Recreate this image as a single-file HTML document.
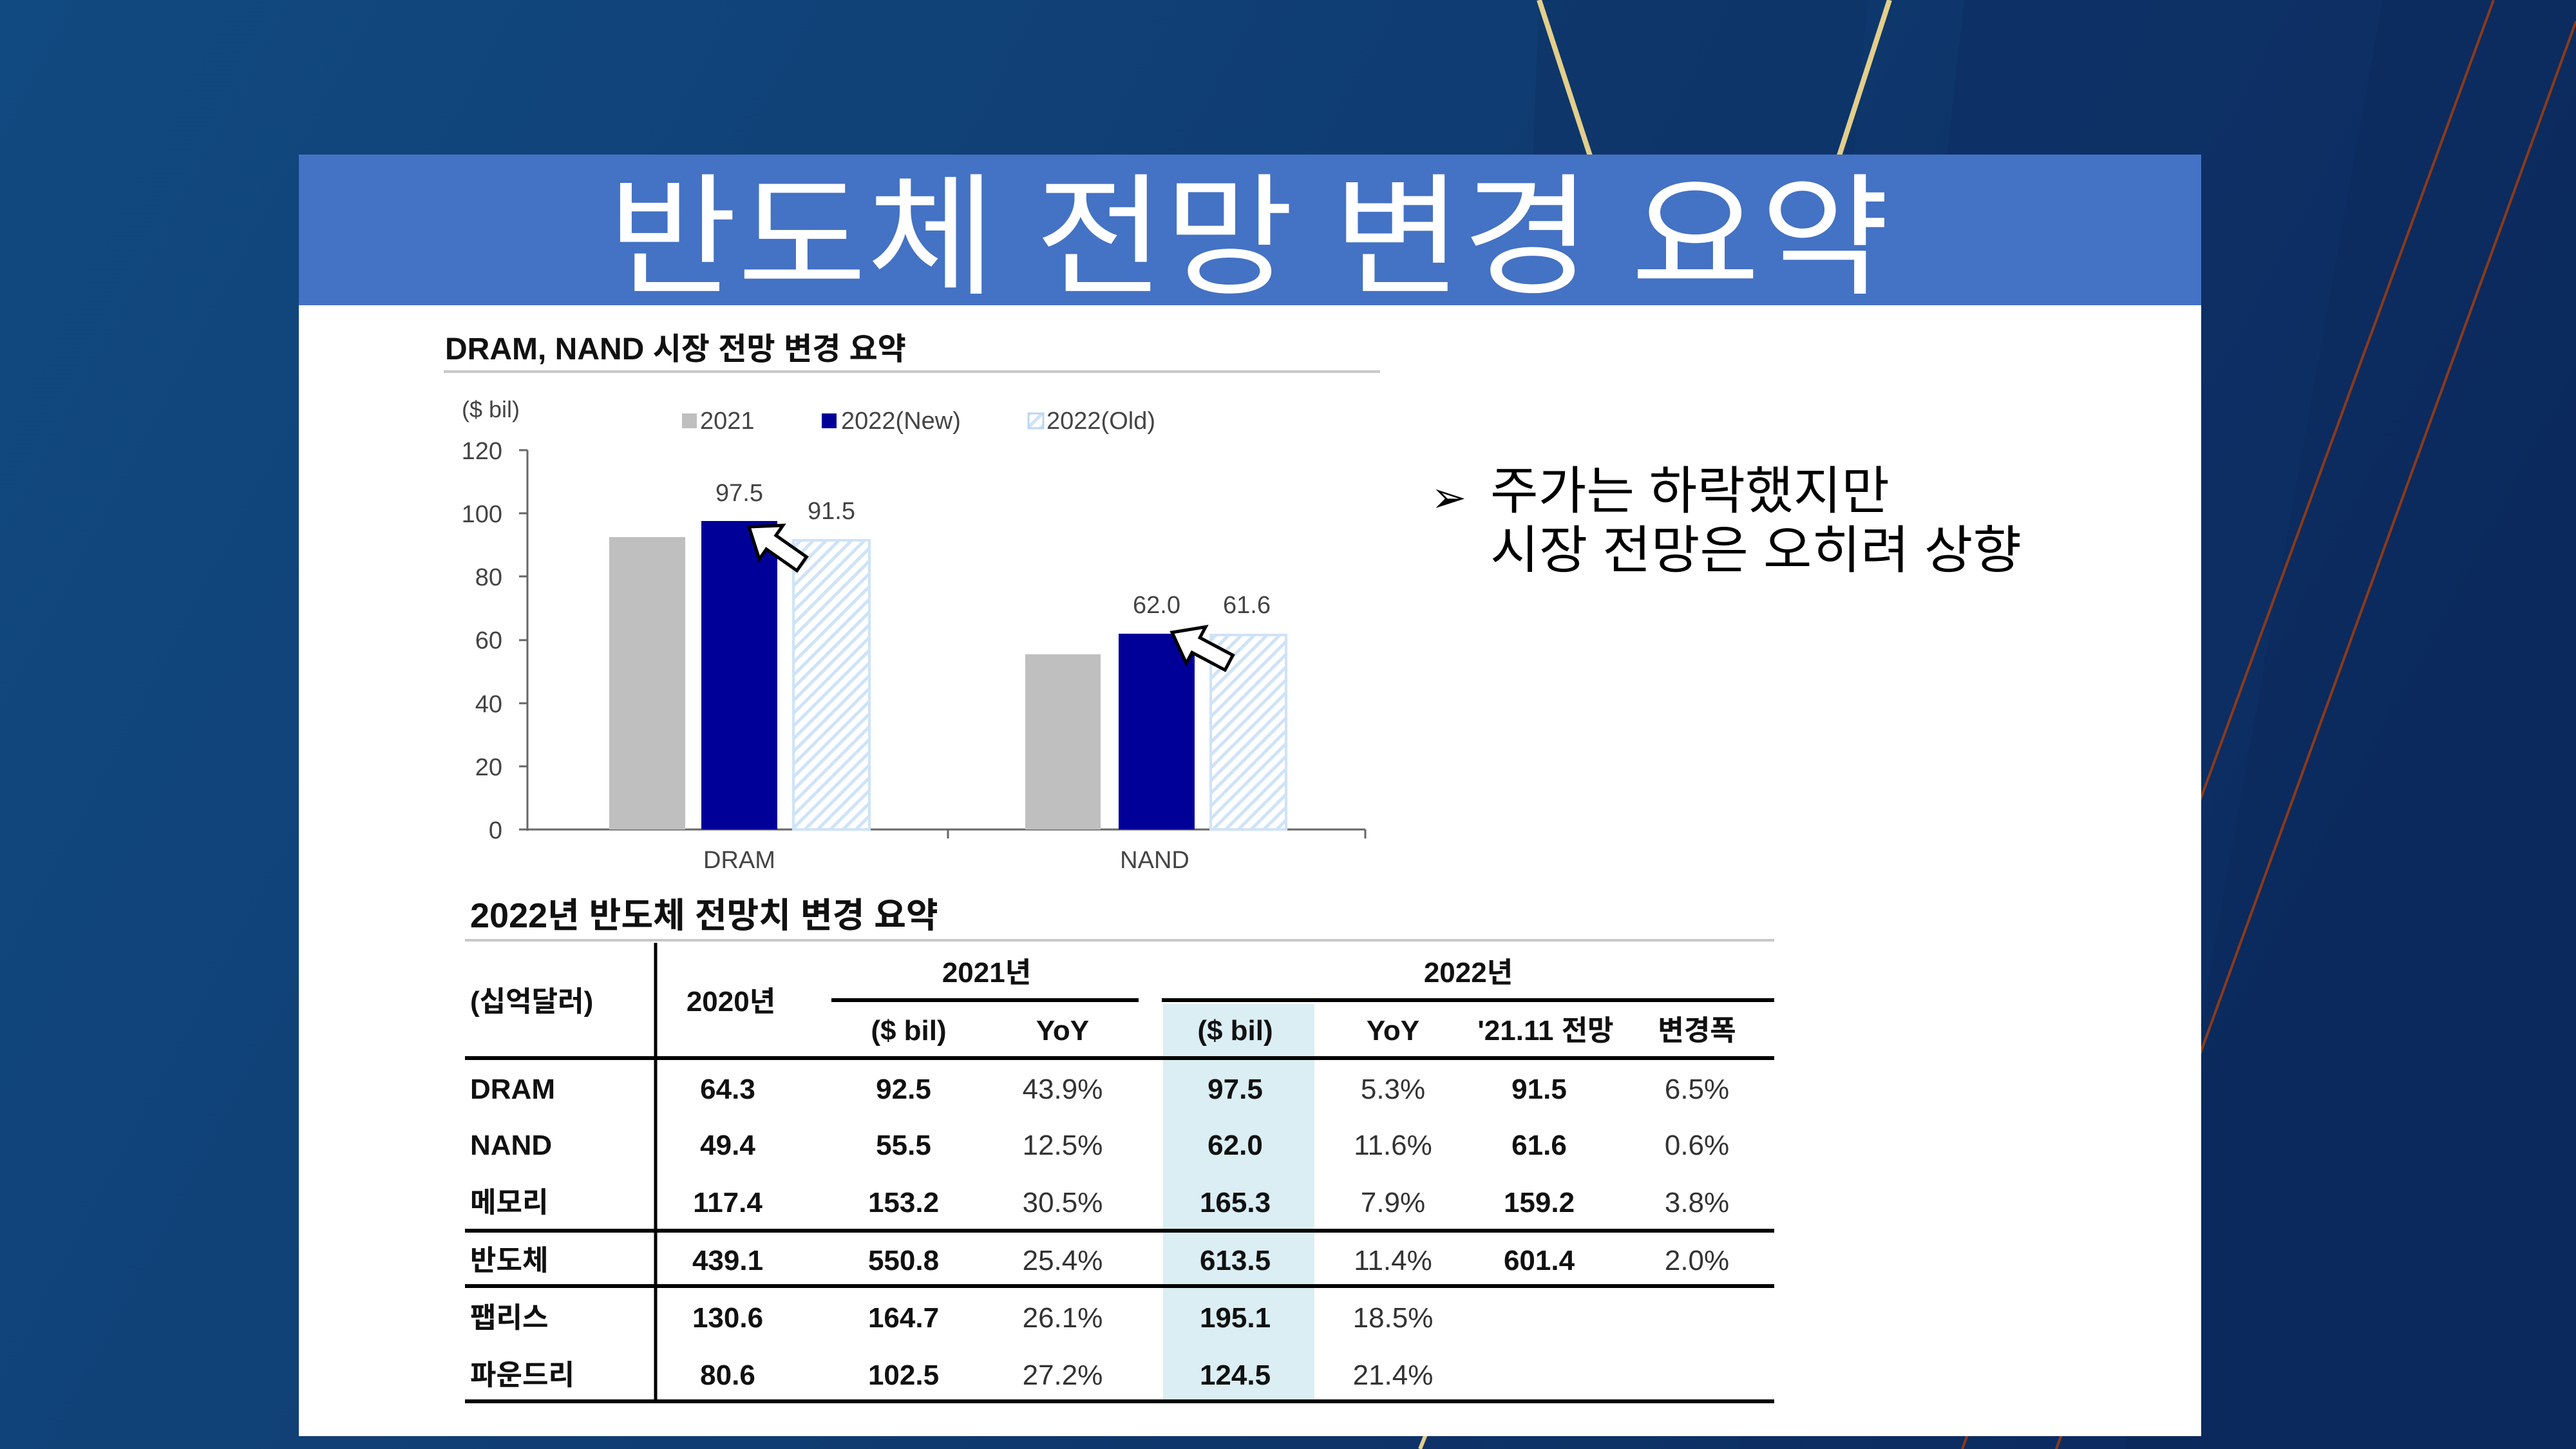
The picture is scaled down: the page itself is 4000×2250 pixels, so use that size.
<!DOCTYPE html>
<html><head><meta charset="utf-8"><style>
html,body{margin:0;padding:0;width:4000px;height:2250px;overflow:hidden;}
svg{display:block}
text{font-family:"Liberation Sans","Noto Sans CJK KR",sans-serif;}
</style></head><body>
<svg width="4000" height="2250" viewBox="0 0 4000 2250" xmlns="http://www.w3.org/2000/svg">
<defs>
<linearGradient id="bg" x1="0" y1="0" x2="1" y2="0.3">
<stop offset="0" stop-color="#114a80"/><stop offset="0.55" stop-color="#0f3c72"/><stop offset="1" stop-color="#0c2a5e"/>
</linearGradient>
<pattern id="hatch" width="14" height="14" patternUnits="userSpaceOnUse" patternTransform="rotate(45)">
<rect width="14" height="14" fill="#ffffff"/><rect width="5" height="14" fill="#cfe3f7"/>
</pattern>
</defs>
<rect width="4000" height="2250" fill="url(#bg)"/>
<polygon points="2390,0 2900,0 2700,2250 2300,2250" fill="#0e3468" opacity="0.6"/>
<polygon points="3050,0 3700,0 3300,2250 2800,2250" fill="#0d2f64" opacity="0.6"/>
<polygon points="3700,0 4000,0 4000,2250 3300,2250" fill="#0b295b" opacity="0.6"/>
<line x1="2390" y1="0" x2="2475" y2="260" stroke="#e3cf8a" stroke-width="8"/>
<line x1="2934" y1="0" x2="2850" y2="260" stroke="#e3cf8a" stroke-width="8"/>
<line x1="2215" y1="2225" x2="2205" y2="2250" stroke="#e3cf8a" stroke-width="6"/>
<line x1="3872" y1="0" x2="3047" y2="2250" stroke="#8a3a1a" stroke-width="4"/>
<line x1="4000" y1="33" x2="3193" y2="2250" stroke="#8a3a1a" stroke-width="4"/>
<!-- panel -->
<rect x="464" y="240" width="2954" height="1990" fill="#ffffff"/>
<rect x="464" y="240" width="2954" height="234" fill="#4472c4"/>
<text x="944" y="440" font-size="205" fill="#ffffff" textLength="1990" lengthAdjust="spacingAndGlyphs">반도체 전망 변경 요약</text>
<!-- chart -->
<text x="691" y="558" font-size="48" font-weight="bold" fill="#111">DRAM, NAND 시장 전망 변경 요약</text>
<line x1="689" y1="577" x2="2143" y2="577" stroke="#c8c8c8" stroke-width="4"/>
<text x="717" y="648" font-size="36" fill="#444">($ bil)</text>
<rect x="1059" y="642" width="23" height="23" fill="#bfbfbf"/>
<text x="1087" y="666" font-size="38" fill="#444">2021</text>
<rect x="1276" y="642" width="23" height="23" fill="#000099"/>
<text x="1306" y="666" font-size="38" fill="#444">2022(New)</text>
<rect x="1597" y="642" width="23" height="23" fill="url(#hatch)" stroke="#bcd6f2" stroke-width="3"/>
<text x="1625" y="666" font-size="38" fill="#444">2022(Old)</text>
<g font-size="38" fill="#444" text-anchor="end">
<text x="780" y="713">120</text><text x="780" y="811">100</text><text x="780" y="909">80</text>
<text x="780" y="1007">60</text><text x="780" y="1106">40</text><text x="780" y="1204">20</text><text x="780" y="1302">0</text>
</g>
<g stroke="#666" stroke-width="3">
<line x1="819" y1="699" x2="819" y2="1290"/>
<line x1="806" y1="699" x2="819" y2="699"/><line x1="806" y1="797" x2="819" y2="797"/>
<line x1="806" y1="895" x2="819" y2="895"/><line x1="806" y1="994" x2="819" y2="994"/>
<line x1="806" y1="1092" x2="819" y2="1092"/><line x1="806" y1="1190" x2="819" y2="1190"/>
<line x1="806" y1="1288" x2="2120" y2="1288"/>
<line x1="1472" y1="1288" x2="1472" y2="1302"/><line x1="2120" y1="1288" x2="2120" y2="1302"/>
</g>
<rect x="946" y="834" width="118" height="454" fill="#bfbfbf"/>
<rect x="1089" y="809" width="118" height="479" fill="#000099"/>
<rect x="1232" y="839" width="118" height="449" fill="url(#hatch)" stroke="#cfe3f7" stroke-width="4"/>
<rect x="1592" y="1016" width="117" height="272" fill="#bfbfbf"/>
<rect x="1737" y="984" width="118" height="304" fill="#000099"/>
<rect x="1880" y="986" width="117" height="302" fill="url(#hatch)" stroke="#cfe3f7" stroke-width="4"/>
<polygon points="0,0 42,-32 42,-13 100,-13 100,13 42,13 42,32" fill="#fff" stroke="#000" stroke-width="5" transform="translate(1163,818) rotate(35)"/>
<polygon points="0,0 42,-32 42,-13 100,-13 100,13 42,13 42,32" fill="#fff" stroke="#000" stroke-width="5" transform="translate(1820,982) rotate(28)"/>
<g font-size="38" fill="#444" text-anchor="middle">
<text x="1148" y="778">97.5</text><text x="1291" y="806">91.5</text>
<text x="1796" y="952">62.0</text><text x="1936" y="952">61.6</text>
<text x="1148" y="1348">DRAM</text><text x="1793" y="1348">NAND</text>
</g>
<!-- bullet -->
<text x="2222" y="795" font-size="66" fill="#000">➢</text>
<text x="2314" y="790" font-size="80" fill="#000" textLength="620" lengthAdjust="spacingAndGlyphs">주가는 하락했지만</text>
<text x="2314" y="882" font-size="80" fill="#000" textLength="825" lengthAdjust="spacingAndGlyphs">시장 전망은 오히려 상향</text>
<!-- table -->
<text x="730" y="1440" font-size="54" font-weight="bold" fill="#111">2022년 반도체 전망치 변경 요약</text>
<line x1="722" y1="1460" x2="2755" y2="1460" stroke="#c8c8c8" stroke-width="4"/>
<rect x="1806" y="1559" width="235" height="617" fill="#daeef3"/>
<g stroke="#000">
<line x1="1018" y1="1464" x2="1018" y2="2176" stroke-width="5"/>
<line x1="1291" y1="1553" x2="1768" y2="1553" stroke-width="6"/>
<line x1="1804" y1="1553" x2="2755" y2="1553" stroke-width="6"/>
<line x1="722" y1="1643" x2="2755" y2="1643" stroke-width="6"/>
<line x1="722" y1="1911" x2="2755" y2="1911" stroke-width="6"/>
<line x1="722" y1="1997" x2="2755" y2="1997" stroke-width="6"/>
<line x1="722" y1="2176" x2="2755" y2="2176" stroke-width="6"/>
</g>
<g font-size="44" font-weight="bold" fill="#111" text-anchor="middle">
<text x="1532" y="1525">2021년</text><text x="2280" y="1525">2022년</text>
<text x="1135" y="1570">2020년</text>
<text x="1411" y="1615">($ bil)</text><text x="1650" y="1615">YoY</text>
<text x="1918" y="1615">($ bil)</text><text x="2163" y="1615">YoY</text>
<text x="2400" y="1615">'21.11 전망</text><text x="2635" y="1615">변경폭</text>
</g>
<text x="730" y="1570" font-size="44" font-weight="bold" fill="#111">(십억달러)</text>
<g font-size="44" font-weight="bold" fill="#111">
<text x="730" y="1706">DRAM</text><text x="730" y="1793">NAND</text><text x="730" y="1882">메모리</text>
<text x="730" y="1972">반도체</text><text x="730" y="2061">팹리스</text><text x="730" y="2150">파운드리</text>
</g>
<g font-size="44" text-anchor="middle">
<g font-weight="bold" fill="#111">
<text x="1130" y="1706">64.3</text><text x="1403" y="1706">92.5</text><text x="1918" y="1706">97.5</text><text x="2390" y="1706">91.5</text>
<text x="1130" y="1793">49.4</text><text x="1403" y="1793">55.5</text><text x="1918" y="1793">62.0</text><text x="2390" y="1793">61.6</text>
<text x="1130" y="1882">117.4</text><text x="1403" y="1882">153.2</text><text x="1918" y="1882">165.3</text><text x="2390" y="1882">159.2</text>
<text x="1130" y="1972">439.1</text><text x="1403" y="1972">550.8</text><text x="1918" y="1972">613.5</text><text x="2390" y="1972">601.4</text>
<text x="1130" y="2061">130.6</text><text x="1403" y="2061">164.7</text><text x="1918" y="2061">195.1</text>
<text x="1130" y="2150">80.6</text><text x="1403" y="2150">102.5</text><text x="1918" y="2150">124.5</text>
</g>
<g fill="#333">
<text x="1650" y="1706">43.9%</text><text x="2163" y="1706">5.3%</text><text x="2635" y="1706">6.5%</text>
<text x="1650" y="1793">12.5%</text><text x="2163" y="1793">11.6%</text><text x="2635" y="1793">0.6%</text>
<text x="1650" y="1882">30.5%</text><text x="2163" y="1882">7.9%</text><text x="2635" y="1882">3.8%</text>
<text x="1650" y="1972">25.4%</text><text x="2163" y="1972">11.4%</text><text x="2635" y="1972">2.0%</text>
<text x="1650" y="2061">26.1%</text><text x="2163" y="2061">18.5%</text>
<text x="1650" y="2150">27.2%</text><text x="2163" y="2150">21.4%</text>
</g>
</g>
</svg>
</body></html>
